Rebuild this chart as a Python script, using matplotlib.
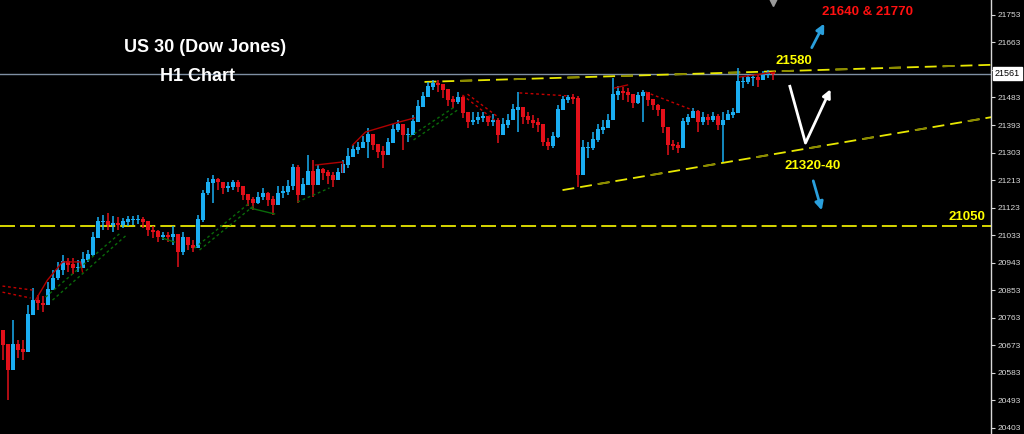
import matplotlib
matplotlib.use('Agg')
import matplotlib.pyplot as plt
from matplotlib.transforms import blended_transform_factory
import numpy as np

# ---------------- data (H1 bars, US30) ----------------
closes = [20673, 20591, 20673, 20657, 20650, 20771, 20820, 20810, 20804, 20853,
          20892, 20918, 20945, 20935, 20925, 20925, 20951, 20968, 21023, 21076,
          21076, 21066, 21069, 21066, 21076, 21082, 21082, 21082, 21076, 21049,
          21043, 21026, 21030, 21026, 21033, 20977, 21023, 21000, 20990, 21082,
          21170, 21203, 21213, 21206, 21187, 21190, 21203, 21190, 21164, 21148,
          21138, 21157, 21170, 21148, 21131, 21170, 21174, 21193, 21252, 21164,
          21197, 21239, 21197, 21246, 21236, 21226, 21213, 21236, 21262, 21288,
          21311, 21318, 21337, 21360, 21328, 21305, 21295, 21334, 21377, 21393,
          21360, 21360, 21403, 21452, 21485, 21517, 21530, 21524, 21508, 21475,
          21468, 21481, 21432, 21403, 21409, 21416, 21422, 21403, 21409, 21360,
          21393, 21409, 21442, 21449, 21419, 21409, 21400, 21393, 21337, 21324,
          21354, 21442, 21475, 21481, 21478, 21229, 21318, 21318, 21344, 21377,
          21383, 21409, 21491, 21501, 21498, 21491, 21465, 21488, 21498, 21475,
          21458, 21442, 21386, 21328, 21324, 21318, 21403, 21416, 21436, 21403,
          21416, 21409, 21422, 21393, 21409, 21426, 21432, 21534, 21534, 21547,
          21547, 21540, 21557, 21563, 21561]
highs = [20722, 20673, 20755, 20689, 20689, 20804, 20860, 20837, 20833, 20879,
         20918, 20945, 20968, 20958, 20958, 20951, 20977, 20984, 21043, 21092,
         21098, 21105, 21095, 21092, 21089, 21095, 21095, 21098, 21092, 21076,
         21062, 21049, 21043, 21043, 21062, 21030, 21043, 21023, 21017, 21098,
         21180, 21220, 21229, 21220, 21206, 21206, 21213, 21213, 21187, 21167,
         21157, 21174, 21187, 21174, 21161, 21193, 21193, 21213, 21265, 21262,
         21220, 21295, 21278, 21262, 21252, 21246, 21239, 21252, 21278, 21318,
         21328, 21337, 21357, 21383, 21360, 21328, 21324, 21350, 21396, 21409,
         21396, 21383, 21426, 21475, 21501, 21534, 21540, 21540, 21527, 21501,
         21488, 21501, 21488, 21436, 21436, 21436, 21436, 21422, 21429, 21416,
         21416, 21429, 21462, 21501, 21449, 21436, 21426, 21416, 21383, 21350,
         21370, 21458, 21488, 21491, 21494, 21488, 21344, 21337, 21370, 21396,
         21409, 21429, 21547, 21521, 21517, 21514, 21488, 21501, 21508, 21494,
         21475, 21462, 21426, 21377, 21344, 21337, 21416, 21429, 21449, 21442,
         21436, 21429, 21436, 21429, 21436, 21442, 21449, 21580, 21553, 21560,
         21560, 21560, 21570, 21573, 21566]
lows = [20624, 20493, 20608, 20630, 20624, 20657, 20781, 20788, 20781, 20820,
        20860, 20886, 20902, 20912, 20905, 20912, 20925, 20945, 20964, 21033,
        21049, 21049, 21043, 21049, 21056, 21062, 21066, 21069, 21056, 21030,
        21023, 21010, 21017, 21010, 21000, 20928, 20968, 20984, 20977, 20990,
        21076, 21164, 21138, 21180, 21167, 21174, 21180, 21174, 21148, 21128,
        21115, 21134, 21148, 21128, 21098, 21148, 21154, 21164, 21180, 21138,
        21167, 21213, 21157, 21220, 21213, 21200, 21190, 21213, 21239, 21252,
        21292, 21298, 21318, 21285, 21311, 21285, 21252, 21311, 21344, 21370,
        21311, 21337, 21377, 21426, 21458, 21491, 21508, 21501, 21481, 21455,
        21449, 21462, 21416, 21383, 21393, 21396, 21403, 21390, 21390, 21334,
        21370, 21383, 21422, 21370, 21396, 21396, 21383, 21370, 21324, 21311,
        21318, 21350, 21449, 21465, 21462, 21190, 21262, 21285, 21311, 21337,
        21364, 21383, 21436, 21475, 21475, 21468, 21449, 21462, 21403, 21455,
        21442, 21422, 21367, 21295, 21311, 21301, 21328, 21393, 21416, 21370,
        21393, 21393, 21403, 21377, 21272, 21409, 21416, 21442, 21514, 21527,
        21521, 21517, 21540, 21547, 21540]
first_open = 20720

current_price = 21561
tick_prices = [20403 + 90 * k for k in range(16)]

# analysis drawings: (bar index, price) pairs
level_21050 = 21062
upper_line = [(84.4, 21534), (204, 21593)]
lower_line = [(112, 21180), (204, 21436)]

red_dotted = [
    [(0, 20866), (6, 20853)],
    [(0, 20846), (5.6, 20827)],
    [(92, 21491), (98.4, 21409)],
    [(93, 21494), (99.2, 21418)],
    [(103.4, 21498), (113.4, 21488)],
    [(128.6, 21501), (138, 21442)],
]
red_solid = [
    [(6.6, 20820), (9, 20886), (12, 20945), (15.6, 20945), (16, 20912)],
    [(62.6, 21262), (68, 21272), (68, 21239)],
    [(70, 21327), (72.6, 21370), (79.4, 21403), (82.4, 21416)],
    [(122.4, 21514), (125, 21524)],
    [(147.4, 21550), (154.4, 21566)],
]
green_dotted = [
    [(8.6, 20830), (23.6, 21040)],
    [(10, 20820), (24.6, 21030)],
    [(38.4, 20990), (49.4, 21138)],
    [(39.4, 20984), (50.2, 21128)],
    [(59, 21141), (65.4, 21187)],
    [(81.4, 21354), (90.4, 21452)],
    [(82.2, 21344), (91, 21442)],
]
green_solid = [
    [(32, 21023), (34.4, 21010)],
    [(49.6, 21121), (54.4, 21102)],
]

# ---------------- figure ----------------
fig = plt.figure(figsize=(10.24, 4.34), dpi=100, facecolor='black')
ax = fig.add_axes([0, 0, 991 / 1024, 1])
ax.set_facecolor('black')

n = len(closes)
idx = np.arange(n)
c = np.array(closes, float)
o = np.array([first_open] + closes[:-1], float)
h = np.maximum(np.array(highs, float), np.maximum(o, c))
l = np.minimum(np.array(lows, float), np.minimum(o, c))
up = c >= o
col_up = '#1aaef2'
col_dn = '#e3101a'
colors = np.where(up, col_up, col_dn)

# reference horizontal line & current price
ax.axhline(level_21050, color='#e8e800', lw=1.3, dashes=(8.3, 2.8), zorder=1)
ax.axhline(current_price, color='#7f8fa3', lw=1.0, zorder=1)

ax.vlines(idx, l, h, colors=colors, lw=1.1, zorder=3)
ax.bar(idx, np.abs(c - o) + 2.0, bottom=np.minimum(o, c), width=0.8,
       color=colors, linewidth=0, zorder=3)

# trend lines (yellow dashes, some drawn in olive as on the original)
for pts in (upper_line, lower_line):
    xs, ys = zip(*pts)
    ax.plot(xs, ys, color='#e8e800', lw=1.3, dashes=(6.6, 3.3), zorder=2)
    ax.plot(xs, ys, color='#8a8a00', lw=1.3, dashes=(0, 19.8, 6.6, 3.3), zorder=2)

for seg in red_dotted:
    xs, ys = zip(*seg)
    ax.plot(xs, ys, color='#c40000', lw=1.0, ls=(0, (2, 2)), zorder=4)
for seg in red_solid:
    xs, ys = zip(*seg)
    ax.plot(xs, ys, color='#b00000', lw=1.0, zorder=4)
for seg in green_dotted:
    xs, ys = zip(*seg)
    ax.plot(xs, ys, color='#0a6a0a', lw=1.0, ls=(0, (2, 2)), zorder=4)
for seg in green_solid:
    xs, ys = zip(*seg)
    ax.plot(xs, ys, color='#0a6a0a', lw=1.0, zorder=4)

# limits
ax.set_xlim(-0.5, 197.7)
ax.set_ylim(20382, 21802)

# axes styling
for s in ['left', 'top', 'bottom']:
    ax.spines[s].set_visible(False)
ax.spines['right'].set_color('#d8d8d8')
ax.spines['right'].set_linewidth(1.0)
ax.set_xticks([])
ax.yaxis.tick_right()
ax.set_yticks(tick_prices)
# the label next to the current price is hidden behind its price box
ax.set_yticklabels(['' if abs(p - current_price) < 30 else str(p) for p in tick_prices])
ax.tick_params(axis='y', colors='#d8d8d8', labelcolor='#d8d8d8', length=3,
               width=0.8, pad=2, direction='out')
for lab in ax.get_yticklabels():
    lab.set_fontfamily('Liberation Sans')
    lab.set_fontsize(6)

# current price box
tr = blended_transform_factory(ax.transAxes, ax.transData)
ax.text(1.004, current_price, str(current_price), transform=tr, ha='left', va='center',
        fontsize=6.5, family='Liberation Sans', color='black', clip_on=False, zorder=10,
        bbox=dict(boxstyle='square,pad=0.25', fc='white', ec='white'))

# titles
ax.text(40.6, 21645, 'US 30 (Dow Jones)', color='white', fontsize=13, fontweight='bold',
        family='Liberation Sans', ha='center', va='center', zorder=6)
ax.text(39.0, 21553, 'H1 Chart', color='white', fontsize=13, fontweight='bold',
        family='Liberation Sans', ha='center', va='center', zorder=6)

# level labels
ax.text(173, 21763, '21640 & 21770', color='#ff1010', fontsize=9.5, fontweight='bold',
        family='Liberation Sans', ha='center', va='center', zorder=6)
ax.text(158.2, 21602, '21580', color='#ffff00', fontsize=9.5, fontweight='bold',
        family='Liberation Sans', ha='center', va='center', zorder=6)
ax.text(162, 21259, '21320-40', color='#ffff00', fontsize=9.5, fontweight='bold',
        family='Liberation Sans', ha='center', va='center', zorder=6)
ax.text(192.8, 21092, '21050', color='#ffff00', fontsize=9.5, fontweight='bold',
        family='Liberation Sans', ha='center', va='center', zorder=6)

# arrows
blue = '#2a9fdc'
ax.annotate('', xy=(164.6, 21733), xytext=(161.6, 21638),
            arrowprops=dict(arrowstyle='-|>', color=blue, lw=2, mutation_scale=12), zorder=6)
ax.annotate('', xy=(164, 21105), xytext=(162, 21219),
            arrowprops=dict(arrowstyle='-|>', color=blue, lw=2, mutation_scale=12), zorder=6)
ax.plot([157.4, 160.6], [21524, 21334], color='white', lw=2, zorder=6,
        solid_capstyle='butt')
ax.annotate('', xy=(165.6, 21510), xytext=(160.6, 21334),
            arrowprops=dict(arrowstyle='-|>', color='white', lw=2, mutation_scale=12,
                            shrinkA=0, shrinkB=0), zorder=6)

# small marker at top
ax.plot([154], [21796], marker='v', color='#9a9a9a', ms=6, zorder=6, clip_on=False)

fig.savefig('out.png', dpi=100, facecolor='black')
